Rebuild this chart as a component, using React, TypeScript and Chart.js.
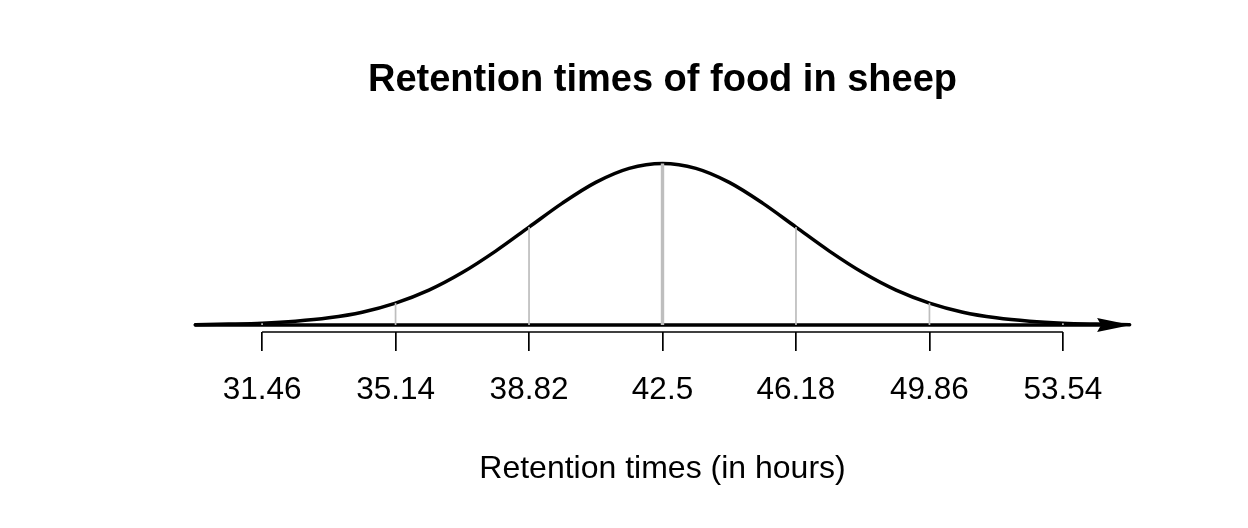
import React, { useEffect, useRef } from "react";
import { Chart, registerables } from "chart.js";

Chart.register(...registerables);

// Density curve (x in hours, y = density)
const CURVE_X = [29.62, 30.54, 31.46, 32.38, 33.3, 34.22, 35.14, 36.06, 36.98, 37.9, 38.82, 39.74, 40.66, 41.58, 42.5, 43.42, 44.34, 45.26, 46.18, 47.1, 48.02, 48.94, 49.86, 50.78, 51.7, 52.62, 53.54, 54.46, 55.38];
const CURVE_Y = [0.0002, 0.0006, 0.0012, 0.0025, 0.0048, 0.0086, 0.0147, 0.0234, 0.0352, 0.0496, 0.0657, 0.0818, 0.0957, 0.1051, 0.1084, 0.1051, 0.0957, 0.0818, 0.0657, 0.0496, 0.0352, 0.0234, 0.0147, 0.0086, 0.0048, 0.0025, 0.0012, 0.0006, 0.0002];

// Axis ticks and labels
const TICKS = [31.46, 35.14, 38.82, 42.5, 46.18, 49.86, 53.54];
const TICK_LABELS = ["31.46", "35.14", "38.82", "42.5", "46.18", "49.86", "53.54"];

// Heights of grey drop lines at each tick
const DROP_HEIGHTS = [0.0012, 0.0147, 0.0657, 0.1084, 0.0657, 0.0147, 0.0012];

// Baseline arrow extent
const ARROW_START = 29.62;
const ARROW_TIP = 55.42;

const TITLE = "Retention times of food in sheep";
const X_TITLE = "Retention times (in hours)";

const X_MIN = 29.5;
const X_MAX = 55.5;
const Y_MIN = -0.0047;
const Y_MAX = 0.12417;

const FONT = "'Liberation Sans', Arial, Helvetica, sans-serif";

const arrowPlugin = {
  id: "arrowHead",
  afterDatasetsDraw(chart: any) {
    const { ctx, scales } = chart;
    const xs = scales.x;
    const ys = scales.y;
    const tipX = xs.getPixelForValue(ARROW_TIP);
    const yy = ys.getPixelForValue(0);
    const len = 34;
    const half = 7;
    ctx.save();
    ctx.fillStyle = "#000";
    ctx.beginPath();
    ctx.moveTo(tipX, yy);
    ctx.lineTo(tipX - len, yy - half);
    ctx.lineTo(tipX - len + 4, yy);
    ctx.lineTo(tipX - len, yy + half);
    ctx.closePath();
    ctx.fill();
    ctx.restore();
  },
};

export default function App() {
  const ref = useRef<HTMLCanvasElement | null>(null);

  useEffect(() => {
    if (!ref.current) return;
    const dropSets = TICKS.map((t, i) => ({
      data: [
        { x: t, y: 0 },
        { x: t, y: DROP_HEIGHTS[i] },
      ],
      borderColor: "#BEBEBE",
      borderWidth: t === 42.5 ? 3.4 : 1.7,
      pointRadius: 0,
      borderCapStyle: "butt",
      fill: false,
    }));
    const chart = new Chart(ref.current, {
      type: "line",
      data: {
        datasets: [
          ...dropSets,
          {
            data: CURVE_X.map((x, i) => ({ x, y: CURVE_Y[i] })),
            borderColor: "#000",
            borderWidth: 3.5,
            pointRadius: 0,
            cubicInterpolationMode: "monotone",
            borderCapStyle: "round",
            fill: false,
          },
          {
            data: [
              { x: ARROW_START, y: 0 },
              { x: ARROW_TIP - 0.8, y: 0 },
            ],
            borderColor: "#000",
            borderWidth: 3.5,
            pointRadius: 0,
            borderCapStyle: "round",
            fill: false,
          },
          {
            data: [
              { x: TICKS[0], y: Y_MIN },
              { x: TICKS[TICKS.length - 1], y: Y_MIN },
            ],
            borderColor: "#000",
            borderWidth: 1.7,
            pointRadius: 0,
            clip: false,
            fill: false,
          },
        ] as any,
      },
      options: {
        animation: false,
        responsive: false,
        events: [],
        layout: { padding: { left: 191, right: 114, top: 0, bottom: 0 } },
        plugins: {
          legend: { display: false },
          tooltip: { enabled: false },
          title: {
            display: true,
            text: TITLE,
            color: "#000",
            font: { family: FONT, size: 38, weight: "bold", lineHeight: 1.2 },
            padding: { top: 58.2, bottom: 36.2 },
          },
        },
        scales: {
          x: {
            type: "linear",
            min: X_MIN,
            max: X_MAX,
            afterBuildTicks: (scale: any) => {
              scale.ticks = TICKS.map((v) => ({ value: v }));
            },
            ticks: {
              autoSkip: false,
              maxRotation: 0,
              color: "#000",
              padding: 20.6,
              font: { family: FONT, size: 31.5, lineHeight: 1.2 },
              callback: (_v: any, i: number) => TICK_LABELS[i],
            },
            grid: {
              display: true,
              drawOnChartArea: false,
              drawTicks: true,
              tickLength: 19,
              color: "#000",
              lineWidth: 1.7,
            },
            border: { display: false },
            title: {
              display: true,
              text: X_TITLE,
              color: "#000",
              font: { family: FONT, size: 32, lineHeight: 1.2 },
              padding: { top: 19.8, bottom: 39.8 },
            },
          },
          y: {
            type: "linear",
            display: false,
            min: Y_MIN,
            max: Y_MAX,
          },
        },
      } as any,
      plugins: [arrowPlugin],
    });
    return () => chart.destroy();
  }, []);

  return (
    <div style={{ position: "fixed", left: 0, top: 0, width: 1248, height: 528, background: "#fff" }}>
      <canvas ref={ref} width={1248} height={528} style={{ display: "block" }} />
    </div>
  );
}
